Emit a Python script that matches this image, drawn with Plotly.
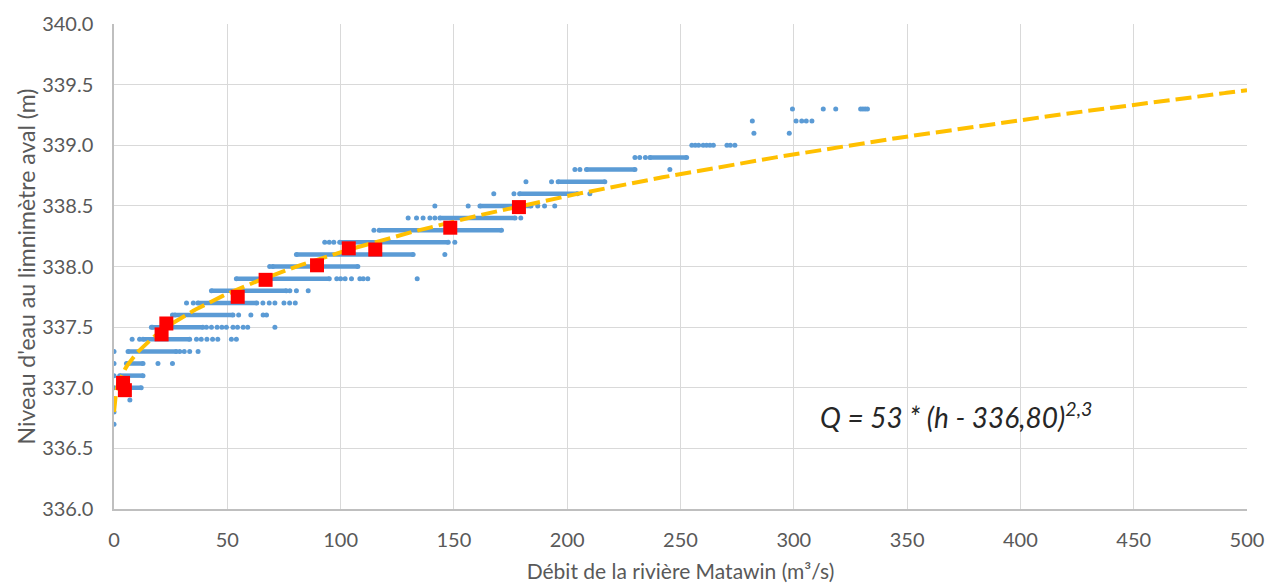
import numpy as np
import plotly.graph_objects as go

# Rating-curve parameters: Q = a * (h - h0)^b
coef_a = 53.0
h_zero = 336.80
expo_b = 2.3

# Stage levels (m) where daily readings form continuous runs of discharge (m3/s)
band_levels = [337.0, 337.1, 337.2, 337.3, 337.4, 337.5, 337.6, 337.7, 337.8, 337.9,
               338.0, 338.1, 338.2, 338.3, 338.4, 338.5, 338.6, 338.7, 338.8, 338.9]
band_start = [1.6, 2.5, 5.5, 6.2, 12.8, 17.0, 26.8, 37.0, 43.0, 54.0,
              70.0, 80.5, 99.6, 117.0, 143.8, 161.5, 179.0, 196.0, 208.5, 236.5]
band_end = [12.0, 12.8, 12.8, 27.5, 33.4, 39.2, 52.5, 63.0, 76.0, 95.0,
            107.6, 132.0, 147.5, 171.0, 177.0, 184.0, 204.5, 216.6, 229.9, 252.7]

# Isolated daily readings, grouped by stage level
dot_levels = [336.7, 336.8, 336.9, 337.0, 337.1, 337.2, 337.3, 337.4, 337.5, 337.6,
              337.7, 337.8, 337.9, 338.0, 338.1, 338.2, 338.3, 338.4, 338.5, 338.6,
              338.7, 338.8, 338.9, 339.0, 339.1, 339.2, 339.3]
dot_q = [
    [0],
    [0],
    [0, 7],
    [0],
    [0],
    [0, 19.4, 25.8],
    [0, 29, 31, 33.4, 37.1],
    [8, 11.3, 36.4, 38.5, 41, 43.5, 45.8, 51.8, 54],
    [16.5, 40.8, 43, 45.5, 47.6, 49.6, 52.5, 54.5, 57, 59, 71],
    [25.8, 55, 60.4, 65.8, 67.3],
    [32, 35, 65.7, 68.5, 71, 75, 77.5, 80],
    [77.6, 80.5, 85.7],
    [98.3, 100, 102, 104.8, 108.5, 110, 112, 133.8],
    [68.7],
    [146],
    [93, 95, 97, 150.4],
    [114.7],
    [129.8, 133.5, 136.4, 139.4, 141.6, 179.5],
    [141.6, 156.3, 187, 190, 194.5],
    [167.6, 176.5, 210],
    [181.8, 193.1],
    [203.4, 205.6, 245.3],
    [229.9, 232, 234.5],
    [255, 256.5, 258, 260, 261.5, 263, 264.5, 270.5, 272, 274],
    [282.4, 298],
    [281.7, 301, 303.5, 305.5, 308],
    [299.4, 313, 318.5, 329.5, 330.5, 331.5, 332.5],
]

# Gauging measurements
gauge_q = [4.0, 4.8, 21.0, 23.1, 54.6, 66.9, 89.6, 103.6, 115.3, 148.4, 178.7]
gauge_h = [337.04, 336.98, 337.44, 337.53, 337.75, 337.89, 338.01, 338.15, 338.14, 338.32, 338.49]

x_ticks = list(range(0, 501, 50))
y_ticks = [336.0, 336.5, 337.0, 337.5, 338.0, 338.5, 339.0, 339.5, 340.0]

BLUE = "#5b9bd5"
ORANGE = "#ffc000"
RED = "#ff0000"
GREY_TXT = "#595959"
FONT = "Lato, 'Open Sans', sans-serif"

# Runs of readings as segments separated by gaps
seg_x, seg_y = [], []
for h, q0, q1 in zip(band_levels, band_start, band_end):
    seg_x += [q0, q1, None]
    seg_y += [h, h, None]

pt_x, pt_y = [], []
for h, qs in zip(dot_levels, dot_q):
    pt_x += qs
    pt_y += [h] * len(qs)

# Rating curve from the fitted equation
curve_q = np.linspace(0, 500, 501)
curve_h = h_zero + (curve_q / coef_a) ** (1.0 / expo_b)

fig = go.Figure()
fig.add_trace(go.Scatter(x=seg_x, y=seg_y, mode="lines+markers",
                         line=dict(color=BLUE, width=4.5),
                         marker=dict(color=BLUE, size=5),
                         connectgaps=False, showlegend=False, hoverinfo="skip"))
fig.add_trace(go.Scatter(x=pt_x, y=pt_y, mode="markers",
                         marker=dict(color=BLUE, size=5),
                         showlegend=False))
fig.add_trace(go.Scatter(x=curve_q, y=curve_h, mode="lines",
                         line=dict(color=ORANGE, width=4, dash="16px,6px"),
                         showlegend=False))
fig.add_trace(go.Scatter(x=gauge_q, y=gauge_h, mode="markers",
                         marker=dict(color=RED, size=14, symbol="square"),
                         showlegend=False))

eq_text = "<i>Q = {:.0f} * (h - {})<sup>{}</sup></i>".format(
    coef_a, f"{h_zero:.2f}".replace(".", ","), f"{expo_b:.1f}".replace(".", ","))
fig.add_annotation(x=310.5, y=336.77, xref="x", yref="y", text=eq_text,
                   showarrow=False, xanchor="left", yanchor="middle",
                   font=dict(family=FONT, size=28, color="#262626"))

axis_common = dict(showgrid=True, gridcolor="#d9d9d9", gridwidth=1.4,
                   zeroline=False, showline=True, linecolor="#bfbfbf", linewidth=1.5,
                   ticks="", tickfont=dict(family=FONT, size=20, color=GREY_TXT))

fig.update_xaxes(range=[0, 500], tickvals=x_ticks, ticklabelstandoff=12,
                 title=dict(text="Débit de la rivière Matawin (m³/s)",
                            font=dict(family=FONT, size=21, color=GREY_TXT), standoff=20),
                 **axis_common)
fig.update_yaxes(range=[336, 340], tickvals=y_ticks, tickformat=".1f", ticklabelstandoff=15,
                 title=dict(text="Niveau d'eau au limnimètre aval (m)",
                            font=dict(family=FONT, size=23, color=GREY_TXT), standoff=0),
                 **axis_common)

fig.update_layout(width=1265, height=583,
                  margin=dict(l=114, r=18, t=24, b=74, autoexpand=False),
                  paper_bgcolor="white", plot_bgcolor="white",
                  showlegend=False)

fig.write_html("out.html")
